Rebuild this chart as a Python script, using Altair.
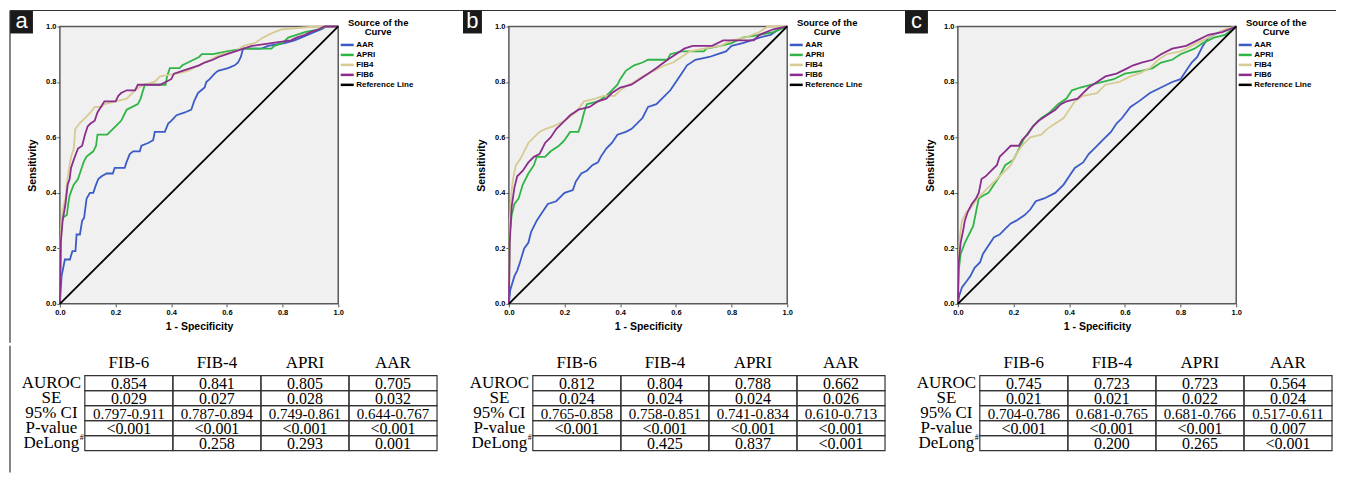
import altair as alt
import pandas as pd

SERIES = ["AAR", "APRI", "FIB4", "FIB6", "Reference Line"]
COLORS = ["#3b5bc6", "#2fb545", "#d6cb92", "#8c2d8e", "#000000"]
TICKS = [0.0, 0.2, 0.4, 0.6, 0.8, 1.0]
REF = [(0, 0), (1, 1)]

# ---------------- panel a ----------------
A_AAR = [(0,0),(0.006,0.10),(0.018,0.16),(0.036,0.16),(0.045,0.19),(0.056,0.19),(0.06,0.25),(0.072,0.25),(0.08,0.30),(0.087,0.31),(0.096,0.38),(0.108,0.40),(0.12,0.40),(0.13,0.43),(0.138,0.45),(0.15,0.46),(0.168,0.47),(0.19,0.47),(0.197,0.49),(0.233,0.49),(0.239,0.51),(0.251,0.54),(0.263,0.55),(0.287,0.55),(0.293,0.57),(0.317,0.58),(0.335,0.59),(0.341,0.62),(0.377,0.62),(0.389,0.65),(0.4,0.66),(0.419,0.68),(0.449,0.69),(0.472,0.70),(0.482,0.73),(0.496,0.76),(0.508,0.77),(0.52,0.78),(0.526,0.80),(0.538,0.81),(0.556,0.83),(0.568,0.84),(0.604,0.85),(0.628,0.86),(0.64,0.87),(0.65,0.89),(0.658,0.92),(0.724,0.92),(0.748,0.93),(0.807,0.94),(0.843,0.95),(0.867,0.96),(0.89,0.97),(0.915,0.98),(0.94,0.99),(0.957,1.0),(1,1)]
A_APRI = [(0,0),(0.005,0.28),(0.01,0.31),(0.025,0.32),(0.03,0.36),(0.035,0.39),(0.042,0.41),(0.05,0.43),(0.065,0.45),(0.075,0.48),(0.085,0.51),(0.095,0.53),(0.12,0.55),(0.13,0.57),(0.135,0.61),(0.17,0.61),(0.18,0.62),(0.2,0.64),(0.22,0.66),(0.23,0.68),(0.24,0.70),(0.26,0.71),(0.28,0.72),(0.29,0.74),(0.305,0.79),(0.38,0.79),(0.385,0.82),(0.395,0.85),(0.43,0.85),(0.44,0.86),(0.46,0.87),(0.48,0.88),(0.5,0.89),(0.51,0.90),(0.55,0.90),(0.6,0.91),(0.66,0.92),(0.76,0.92),(0.77,0.93),(0.8,0.94),(0.82,0.96),(0.85,0.97),(0.88,0.98),(0.93,0.99),(0.96,1.0),(1,1)]
A_FIB4 = [(0,0),(0.002,0.22),(0.006,0.30),(0.01,0.34),(0.02,0.38),(0.027,0.45),(0.035,0.50),(0.04,0.53),(0.05,0.56),(0.055,0.63),(0.07,0.65),(0.09,0.67),(0.11,0.69),(0.125,0.71),(0.15,0.71),(0.16,0.72),(0.2,0.73),(0.24,0.74),(0.27,0.77),(0.3,0.79),(0.34,0.80),(0.36,0.82),(0.42,0.83),(0.46,0.84),(0.5,0.86),(0.54,0.88),(0.58,0.90),(0.63,0.91),(0.66,0.93),(0.7,0.94),(0.73,0.96),(0.77,0.98),(0.8,0.99),(0.92,1.0),(1,1)]
A_FIB6 = [(0,0),(0.003,0.22),(0.01,0.30),(0.02,0.36),(0.028,0.43),(0.035,0.45),(0.04,0.49),(0.05,0.52),(0.065,0.56),(0.08,0.57),(0.09,0.61),(0.1,0.64),(0.11,0.65),(0.125,0.66),(0.135,0.69),(0.16,0.73),(0.2,0.73),(0.21,0.75),(0.22,0.76),(0.24,0.77),(0.27,0.77),(0.28,0.79),(0.36,0.79),(0.38,0.80),(0.4,0.81),(0.41,0.83),(0.44,0.84),(0.47,0.85),(0.5,0.86),(0.52,0.87),(0.55,0.88),(0.57,0.89),(0.6,0.90),(0.63,0.91),(0.66,0.92),(0.69,0.93),(0.76,0.94),(0.83,0.95),(0.85,0.96),(0.88,0.97),(0.9,0.98),(0.93,0.99),(0.95,1.0),(1,1)]

# ---------------- panel b ----------------
B_AAR = [(0,0),(0.005,0.05),(0.02,0.10),(0.03,0.12),(0.04,0.15),(0.055,0.20),(0.07,0.22),(0.08,0.26),(0.1,0.30),(0.12,0.33),(0.14,0.36),(0.17,0.37),(0.2,0.40),(0.23,0.41),(0.24,0.44),(0.26,0.47),(0.28,0.48),(0.3,0.50),(0.32,0.51),(0.33,0.53),(0.35,0.56),(0.37,0.58),(0.39,0.61),(0.42,0.62),(0.44,0.63),(0.46,0.65),(0.48,0.67),(0.5,0.71),(0.53,0.72),(0.56,0.75),(0.58,0.77),(0.6,0.80),(0.62,0.83),(0.64,0.86),(0.67,0.88),(0.72,0.89),(0.75,0.90),(0.78,0.91),(0.8,0.93),(0.84,0.94),(0.87,0.95),(0.9,0.96),(0.94,0.97),(0.97,0.99),(1,1)]
B_APRI = [(0,0),(0.003,0.25),(0.01,0.32),(0.02,0.36),(0.035,0.38),(0.05,0.43),(0.07,0.47),(0.09,0.50),(0.1,0.53),(0.13,0.53),(0.15,0.55),(0.18,0.57),(0.2,0.59),(0.22,0.62),(0.25,0.62),(0.26,0.65),(0.27,0.69),(0.28,0.72),(0.32,0.73),(0.35,0.75),(0.37,0.77),(0.39,0.79),(0.4,0.81),(0.42,0.84),(0.45,0.86),(0.48,0.87),(0.5,0.88),(0.57,0.88),(0.58,0.90),(0.62,0.91),(0.7,0.91),(0.71,0.92),(0.76,0.93),(0.8,0.94),(0.84,0.96),(0.9,0.97),(0.95,0.98),(1,1)]
B_FIB4 = [(0,0),(0.003,0.30),(0.01,0.41),(0.015,0.45),(0.025,0.50),(0.04,0.52),(0.055,0.55),(0.07,0.58),(0.09,0.60),(0.11,0.62),(0.13,0.63),(0.16,0.64),(0.18,0.65),(0.2,0.66),(0.24,0.69),(0.27,0.73),(0.31,0.74),(0.34,0.75),(0.38,0.75),(0.4,0.77),(0.43,0.79),(0.45,0.80),(0.48,0.82),(0.52,0.84),(0.56,0.86),(0.59,0.87),(0.62,0.89),(0.65,0.91),(0.7,0.92),(0.76,0.93),(0.8,0.95),(0.85,0.96),(0.9,0.98),(0.93,1.0),(1,1)]
B_FIB6 = [(0,0),(0.003,0.22),(0.01,0.35),(0.02,0.42),(0.03,0.46),(0.05,0.48),(0.07,0.51),(0.09,0.53),(0.11,0.54),(0.13,0.58),(0.15,0.60),(0.17,0.63),(0.2,0.66),(0.22,0.68),(0.25,0.70),(0.29,0.71),(0.32,0.73),(0.35,0.74),(0.37,0.76),(0.4,0.78),(0.44,0.79),(0.47,0.81),(0.5,0.83),(0.53,0.85),(0.57,0.88),(0.6,0.90),(0.63,0.92),(0.66,0.93),(0.73,0.93),(0.77,0.95),(0.88,0.95),(0.9,0.97),(0.95,0.99),(1,1)]

# ---------------- panel c ----------------
C_AAR = [(0,0),(0.005,0.03),(0.015,0.06),(0.03,0.08),(0.045,0.10),(0.06,0.13),(0.08,0.15),(0.09,0.18),(0.11,0.21),(0.13,0.24),(0.15,0.25),(0.17,0.27),(0.19,0.29),(0.21,0.30),(0.24,0.32),(0.26,0.34),(0.28,0.37),(0.31,0.38),(0.35,0.40),(0.38,0.43),(0.4,0.46),(0.42,0.49),(0.45,0.51),(0.47,0.54),(0.49,0.56),(0.52,0.59),(0.55,0.62),(0.57,0.65),(0.59,0.67),(0.62,0.71),(0.65,0.73),(0.69,0.76),(0.73,0.78),(0.77,0.80),(0.8,0.81),(0.82,0.84),(0.84,0.87),(0.86,0.89),(0.88,0.93),(0.9,0.96),(0.94,0.98),(1,1)]
C_APRI = [(0,0),(0.003,0.12),(0.01,0.18),(0.025,0.22),(0.04,0.25),(0.055,0.28),(0.065,0.33),(0.075,0.38),(0.09,0.39),(0.11,0.40),(0.13,0.43),(0.15,0.46),(0.17,0.50),(0.2,0.52),(0.22,0.56),(0.24,0.60),(0.27,0.64),(0.3,0.67),(0.33,0.69),(0.36,0.72),(0.39,0.74),(0.41,0.77),(0.44,0.78),(0.48,0.79),(0.52,0.80),(0.56,0.81),(0.6,0.83),(0.66,0.84),(0.7,0.85),(0.73,0.87),(0.77,0.88),(0.8,0.90),(0.85,0.92),(0.88,0.94),(0.92,0.96),(0.96,0.97),(1,1)]
C_FIB4 = [(0,0),(0.002,0.15),(0.008,0.25),(0.015,0.30),(0.03,0.33),(0.05,0.35),(0.07,0.38),(0.1,0.41),(0.13,0.44),(0.16,0.47),(0.19,0.50),(0.21,0.54),(0.23,0.57),(0.26,0.60),(0.3,0.61),(0.32,0.63),(0.35,0.65),(0.38,0.67),(0.4,0.70),(0.42,0.73),(0.45,0.75),(0.5,0.76),(0.53,0.79),(0.58,0.80),(0.62,0.82),(0.65,0.83),(0.69,0.85),(0.72,0.88),(0.75,0.90),(0.8,0.91),(0.84,0.93),(0.88,0.95),(0.92,0.97),(0.96,0.99),(1,1)]
C_FIB6 = [(0,0),(0.003,0.15),(0.01,0.22),(0.02,0.27),(0.025,0.30),(0.035,0.33),(0.05,0.36),(0.065,0.38),(0.075,0.40),(0.085,0.45),(0.1,0.46),(0.12,0.48),(0.14,0.50),(0.15,0.53),(0.17,0.55),(0.19,0.57),(0.22,0.57),(0.23,0.59),(0.25,0.61),(0.27,0.64),(0.29,0.66),(0.32,0.68),(0.35,0.70),(0.37,0.72),(0.39,0.73),(0.43,0.74),(0.45,0.76),(0.47,0.78),(0.5,0.80),(0.53,0.82),(0.57,0.83),(0.61,0.85),(0.63,0.86),(0.66,0.87),(0.7,0.88),(0.73,0.90),(0.77,0.92),(0.82,0.93),(0.86,0.95),(0.9,0.97),(0.95,0.98),(1,1)]

# ---------------- tables ----------------
TABLE_COLS = ["FIB-6", "FIB-4", "APRI", "AAR"]
TABLE_ROWS = ["AUROC", "SE", "95% CI", "P-value", "DeLong"]

A_AUROC = ["0.854", "0.841", "0.805", "0.705"]
A_SE = ["0.029", "0.027", "0.028", "0.032"]
A_CI = ["0.797-0.911", "0.787-0.894", "0.749-0.861", "0.644-0.767"]
A_P = ["<0.001", "<0.001", "<0.001", "<0.001"]
A_DELONG = ["", "0.258", "0.293", "0.001"]

B_AUROC = ["0.812", "0.804", "0.788", "0.662"]
B_SE = ["0.024", "0.024", "0.024", "0.026"]
B_CI = ["0.765-0.858", "0.758-0.851", "0.741-0.834", "0.610-0.713"]
B_P = ["<0.001", "<0.001", "<0.001", "<0.001"]
B_DELONG = ["", "0.425", "0.837", "<0.001"]

C_AUROC = ["0.745", "0.723", "0.723", "0.564"]
C_SE = ["0.021", "0.021", "0.022", "0.024"]
C_CI = ["0.704-0.786", "0.681-0.765", "0.681-0.766", "0.517-0.611"]
C_P = ["<0.001", "<0.001", "<0.001", "0.007"]
C_DELONG = ["", "0.200", "0.265", "<0.001"]

SANS = "Liberation Sans"
SERIF = "Liberation Serif"
FRAME = "#333333"


def roc_frame(aar, apri, fib4, fib6):
    rows = []
    for name, pts in zip(SERIES, [aar, apri, fib4, fib6, REF]):
        for i, (x, y) in enumerate(pts):
            rows.append({"series": name, "fpr": x, "tpr": y, "i": i})
    return pd.DataFrame(rows)


def roc_chart(df, letter, bx0, bx1, frame=False):
    lines = alt.Chart(df).mark_line(strokeWidth=1.8).encode(
        x=alt.X("fpr:Q", scale=alt.Scale(domain=[0, 1], nice=False),
                axis=alt.Axis(values=TICKS, format=".1f", title="1 - Specificity",
                              grid=False, domain=False, tickSize=3, tickColor="#555",
                              labelFont=SANS, labelFontWeight="bold", labelFontSize=7.5,
                              labelColor="black", labelPadding=2, labelFlush=False,
                              titleFont=SANS, titleFontWeight="bold", titleFontSize=10.5,
                              titleColor="black", titlePadding=5)),
        y=alt.Y("tpr:Q", scale=alt.Scale(domain=[0, 1], nice=False),
                axis=alt.Axis(values=TICKS, format=".1f", title="Sensitivity",
                              grid=False, domain=False, tickSize=3, tickColor="#555",
                              labelFont=SANS, labelFontWeight="bold", labelFontSize=7.5,
                              labelColor="black", labelPadding=1, labelFlush=False,
                              titleFont=SANS, titleFontWeight="bold", titleFontSize=10.5,
                              titleColor="black", titlePadding=8)),
        color=alt.Color("series:N", scale=alt.Scale(domain=SERIES, range=COLORS),
                        legend=alt.Legend(orient="none", legendX=283, legendY=-8,
                                          title=["Source of the", "Curve"],
                                          titleAlign="center", titleAnchor="middle",
                                          titleFont=SANS, titleFontSize=9.5,
                                          titleFontWeight="bold", titleColor="black",
                                          titleLineHeight=9, titlePadding=3,
                                          labelFont=SANS, labelFontSize=8,
                                          labelFontWeight="bold", labelColor="black",
                                          labelOffset=4, symbolType="M-1.84,0H1.84",
                                          symbolSize=50, symbolStrokeWidth=2.5,
                                          rowPadding=0, padding=0)),
        order=alt.Order("i:Q"),
    )
    one = pd.DataFrame({"t": [letter]})
    box = alt.Chart(one).mark_rect(color="#1a1a1a").encode(
        x=alt.value(bx0), x2=alt.value(bx1), y=alt.value(-16), y2=alt.value(7))
    lab = alt.Chart(one).mark_text(color="white", font=SANS, fontSize=22,
                                   align="center", baseline="middle").encode(
        text="t:N", x=alt.value((bx0 + bx1) / 2), y=alt.value(-5))
    layers = [lines, box, lab]
    if frame:
        top = alt.Chart(one).mark_rule(color=FRAME, strokeWidth=1.2).encode(
            x=alt.value(-50), x2=alt.value(1279), y=alt.value(-16))
        left = alt.Chart(one).mark_rule(color=FRAME, strokeWidth=1.2).encode(
            x=alt.value(-50), y=alt.value(-16), y2=alt.value(317))
        layers += [top, left]
    return alt.layer(*layers).properties(
        width=279, height=278,
        view=alt.ViewBackground(fill="#f0f0f0", stroke="#5a5a5a", strokeWidth=1.5))


def table_chart(auroc, se, ci, p, delong):
    rows = []
    for rname, vals in zip(TABLE_ROWS, [auroc, se, ci, p, delong]):
        for cname, v in zip(TABLE_COLS, vals):
            rows.append({"col": cname, "row": rname, "val": v})
    df = pd.DataFrame(rows)
    x = alt.X("col:N", sort=TABLE_COLS, scale=alt.Scale(paddingInner=0, paddingOuter=0),
              axis=alt.Axis(orient="top", title=None, ticks=False, domain=False,
                            labelAngle=0, labelFont=SERIF, labelFontSize=17,
                            labelColor="black", labelPadding=4))
    y = alt.Y("row:N", sort=TABLE_ROWS, scale=alt.Scale(paddingInner=0, paddingOuter=0),
              axis=alt.Axis(title=None, ticks=False, domain=False,
                            labelFont=SERIF, labelFontSize=17, labelColor="black",
                            labelAlign="center", labelPadding=34))
    cells = alt.Chart(df).mark_rect(fillOpacity=0, stroke=FRAME, strokeWidth=1.2).encode(x=x, y=y)
    texts = alt.Chart(df).mark_text(font=SERIF, color="black", baseline="middle", dy=0.5).encode(
        x=x, y=y, text="val:N",
        size=alt.condition(alt.datum.row == "95% CI", alt.value(15), alt.value(16)))
    sup = alt.Chart(pd.DataFrame({"row": ["DeLong"], "t": ["#"]})).mark_text(
        font=SERIF, fontSize=8, color="black", align="left", dy=-5).encode(
        y=y, x=alt.value(-5), text="t:N")
    return alt.layer(cells, texts, sup).properties(width=353, height=75)


def spacer(w, frame=False):
    one = pd.DataFrame({"k": [0]})
    base = alt.Chart(one).mark_point(opacity=0).encode(
        x=alt.value(0), y=alt.value(0)).properties(width=w, height=75)
    if not frame:
        return base
    left = alt.Chart(one).mark_rule(color=FRAME, strokeWidth=1.2).encode(
        x=alt.value(-50), y=alt.value(-30), y2=alt.value(97))
    return alt.layer(base, left).properties(width=w, height=75)


roc_a = roc_chart(roc_frame(A_AAR, A_APRI, A_FIB4, A_FIB6), "a", -50, -27, frame=True)
roc_b = roc_chart(roc_frame(B_AAR, B_APRI, B_FIB4, B_FIB6), "b", -46, -27)
roc_c = roc_chart(roc_frame(C_AAR, C_APRI, C_FIB4, C_FIB6), "c", -53, -30)

tab_a = table_chart(A_AUROC, A_SE, A_CI, A_P, A_DELONG)
tab_b = table_chart(B_AUROC, B_SE, B_CI, B_P, B_DELONG)
tab_c = table_chart(C_AUROC, C_SE, C_CI, C_P, C_DELONG)

top_row = alt.hconcat(roc_a, roc_b, roc_c, spacing=171, bounds="flush").resolve_scale(
    color="independent").resolve_legend(color="independent")
bottom_row = alt.hconcat(spacer(25, frame=True), tab_a, spacer(96), tab_b, spacer(95), tab_c,
                         spacing=0, bounds="flush")

chart = alt.vconcat(top_row, bottom_row, spacing=0).properties(
    padding=0, background="white").configure_view(stroke=None)

chart.save("out.html", embed_options={"renderer": "svg", "actions": False})
